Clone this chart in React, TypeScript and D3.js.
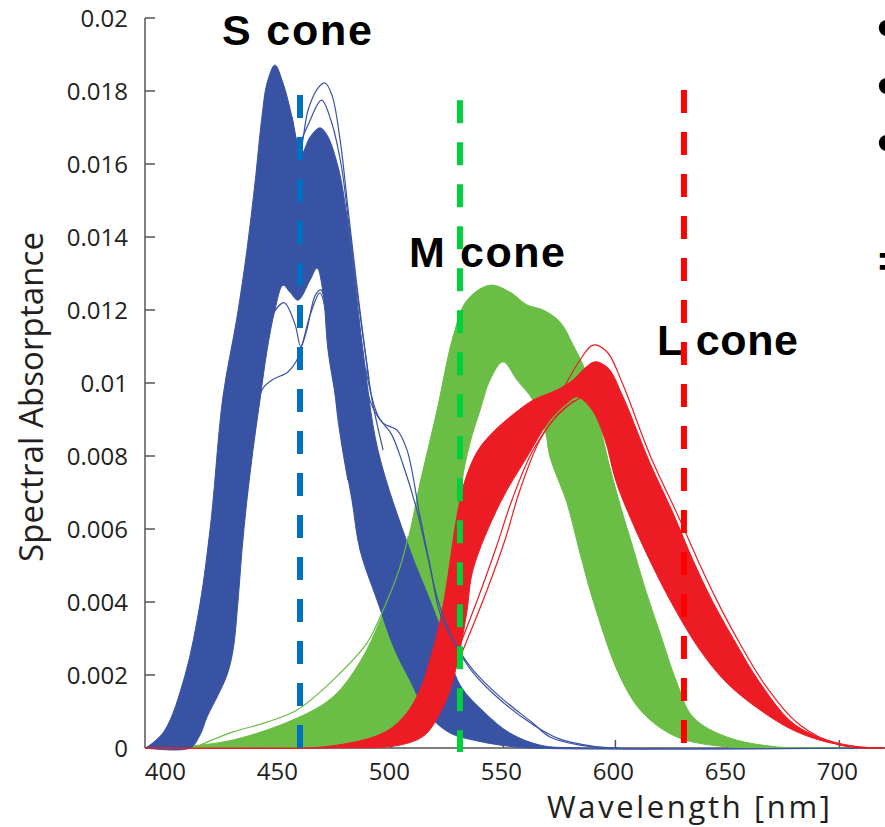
import React from "react";
import * as d3 from "d3";

type Pt = [number, number];

// [wavelength nm, spectral absorptance]
// S cone band: upper and lower edge of the bundle of curves
const sConeUpper: Pt[] = [
  [390, 0], [392.2, 0.00008], [398.9, 0.00049], [407.9, 0.002], [414.6, 0.00397],
  [419.0, 0.00597], [420.4, 0.00679], [424.8, 0.00962], [431.1, 0.01181], [435.5, 0.01364],
  [439.1, 0.01548], [442.2, 0.01729], [444.5, 0.01822], [448.0, 0.01871], [451.6, 0.01822],
  [455.6, 0.01729], [458.3, 0.01647], [459.8, 0.01625], [463.7, 0.01674], [468.1, 0.01699],
  [471.3, 0.01679], [476.2, 0.01592], [480.2, 0.01455], [483.8, 0.01274], [487.3, 0.0109],
  [494.0, 0.00816], [508.3, 0.00542], [517.2, 0.00405], [523.9, 0.00296], [530.6, 0.00173],
  [541.8, 0.00096], [552.9, 0.00041], [566.3, 0.00008], [584.2, 0], [720, 0],
];
const sConeLower: Pt[] = [
  [390, 0], [410.1, 0], [414.6, 0.00036], [417.7, 0.00085], [422.6, 0.00145],
  [426.6, 0.002], [429.3, 0.00268], [431.5, 0.004], [433.3, 0.00542], [435.5, 0.00679],
  [438.2, 0.00816], [441.3, 0.00953], [444.5, 0.0109], [448.0, 0.012], [451.6, 0.01268],
  [454.7, 0.01249], [458.3, 0.01227], [463.7, 0.01282], [466.8, 0.01315], [469.5, 0.01247],
  [471.7, 0.0109], [475.3, 0.00953], [478.4, 0.00816], [482.4, 0.00679], [486.0, 0.00542],
  [493.6, 0.00405], [501.6, 0.00268], [508.3, 0.00186], [515.9, 0.00096], [526.2, 0.00041],
  [536.4, 0.00022], [548.5, 0.00008], [561.9, 0], [720, 0],
];
// single S curves that stand apart from the bundle
const sLineTall: Pt[] = [
  [455.6, 0.01729], [459.2, 0.01638], [462.8, 0.01748], [467.2, 0.01808], [470.4, 0.01822],
  [473.5, 0.01788], [477.1, 0.01666], [480.7, 0.01474], [484.3, 0.01282], [488.2, 0.0109],
  [491.4, 0.00953], [496.3, 0.00816],
];
const sLineTall2: Pt[] = [
  [458.3, 0.0164], [463.0, 0.0171], [468.8, 0.01775], [473.0, 0.0172], [477.5, 0.016],
  [481.5, 0.0141], [485.5, 0.0121], [490.0, 0.0101],
];
const sLineShoulder: Pt[] = [
  [485.5, 0.0116], [490.4, 0.00953], [496.3, 0.0089], [502.5, 0.00871], [507.0, 0.00816],
  [512.8, 0.00633], [517.2, 0.00501], [521.7, 0.0037], [529.3, 0.00277], [536.4, 0.00214],
  [548.5, 0.0014], [563.2, 0.00068], [570.8, 0.0003], [584.2, 0.00008], [602.1, 0],
];
const sLineShoulder2: Pt[] = [
  [488.5, 0.0104], [494, 0.0091], [500, 0.0086], [505, 0.0078], [511, 0.0066], [516, 0.0053],
  [521, 0.004], [528, 0.0029], [536, 0.0021], [548, 0.00135], [563, 0.00065], [575, 0.00025],
  [595, 0],
];
const sLineLow: Pt[] = [
  [432.4, 0.00542], [439.1, 0.00871], [442.2, 0.00981], [446.7, 0.01008], [453.8, 0.0103],
  [457.4, 0.01058], [460.1, 0.01104], [463.7, 0.01186], [468.1, 0.01247], [471.3, 0.01173],
  [473.5, 0.01063], [476.2, 0.00899], [480.6, 0.00734],
];
const sLineDip: Pt[] = [
  [446, 0.0118], [452, 0.0122], [457, 0.0116], [459.5, 0.011], [462, 0.0114], [466, 0.0124],
  [468.5, 0.01255], [471, 0.012], [474, 0.0108],
];

// M cone band
const mConeUpper: Pt[] = [
  [390, 0], [405.6, 0.00003], [429.3, 0.00022], [457.9, 0.00082], [473.9, 0.0014],
  [486.0, 0.00236], [496.3, 0.0037], [507.0, 0.00562], [512.8, 0.00726], [520.4, 0.00926],
  [527.5, 0.01126], [533.8, 0.01227], [544.0, 0.01268], [552.9, 0.01249], [560.5, 0.01214],
  [567.7, 0.012], [575.3, 0.01167], [581.1, 0.01104], [586.4, 0.01036], [591.8, 0.00918],
  [596.7, 0.00789], [602.1, 0.00666], [607.9, 0.00548], [613.2, 0.00438], [619.9, 0.00315],
  [627.5, 0.00178], [634.6, 0.00085], [649.8, 0.0003], [672.1, 0.00003], [694.5, 0], [720, 0],
];
const mConeLower: Pt[] = [
  [390, 0], [459.2, 0], [486.0, 0.00008], [503.8, 0.00036], [517.2, 0.00104],
  [523.9, 0.00214], [528.4, 0.00405], [530.6, 0.0057], [531.5, 0.00726], [535.1, 0.00836],
  [539.6, 0.00926], [544.0, 0.01008], [549.8, 0.01058], [556.1, 0.01008], [563.2, 0.00953],
  [568.6, 0.00871], [570.8, 0.00797], [578.4, 0.00671], [584.2, 0.00534], [590.0, 0.00405],
  [602.1, 0.00195], [612.3, 0.00096], [627.5, 0.0003], [649.8, 0.00003], [672.1, 0], [720, 0],
];
const mLineOuter: Pt[] = [
  [414.6, 0.00008], [429.3, 0.00044], [444.5, 0.00071], [457.9, 0.00104], [473.9, 0.00186],
  [489.1, 0.00288], [496.3, 0.00378], [503.8, 0.00495], [507.5, 0.0058],
];

// L cone band
const lConeUpper: Pt[] = [
  [390, 0], [436.9, 0], [472.6, 0.00005], [496.3, 0.00041], [506.1, 0.0009],
  [512.8, 0.00159], [517.2, 0.00241], [520.8, 0.00323], [523.9, 0.00419], [526.6, 0.00529],
  [529.3, 0.00638], [532.9, 0.00734], [538.7, 0.00816], [546.3, 0.00871], [555.2, 0.00918],
  [563.2, 0.00953], [573.9, 0.00981], [581.1, 0.01008], [586.4, 0.01041], [590.9, 0.01058],
  [596.7, 0.01041], [603.4, 0.00962], [615.4, 0.00781], [625.7, 0.00644], [634.6, 0.00515],
  [643.1, 0.00405], [652.5, 0.00301], [664.6, 0.00178], [679.3, 0.00068], [694.5, 0.00022],
  [709.2, 0.00003], [720, 0],
];
const lConeLower: Pt[] = [
  [390, 0], [472.6, 0], [503.8, 0.00008], [515.0, 0.00036], [521.7, 0.00096],
  [526.2, 0.00159], [530.6, 0.00268], [533.8, 0.00378], [536.4, 0.00488], [548.5, 0.00671],
  [560.5, 0.00797], [570.8, 0.00899], [578.4, 0.00945], [582.9, 0.00962], [589.6, 0.00926],
  [595.4, 0.00844], [599.8, 0.0074], [603.4, 0.00679], [613.2, 0.00542], [624.4, 0.00405],
  [637.8, 0.00268], [649.8, 0.00178], [664.6, 0.00104], [679.3, 0.00049], [694.5, 0.00016],
  [709.2, 0.00003], [720, 0],
];
const lLineA: Pt[] = [
  [518.6, 0.00096], [526.2, 0.00186], [533.8, 0.00296], [542.7, 0.00433], [550.7, 0.0057],
  [557.4, 0.00707], [566.3, 0.00844], [575.3, 0.00921], [584.2, 0.00959],
];
const lLineB: Pt[] = [
  [516.3, 0.00077], [523.9, 0.00173], [530.6, 0.00282], [538.7, 0.00411], [546.7, 0.00548],
  [553.8, 0.00679], [562.8, 0.00811], [573.0, 0.00904], [581.9, 0.00953],
];
const lLinePeak: Pt[] = [
  [575.3, 0.00967], [584.2, 0.01063], [590.0, 0.01104], [596.3, 0.01085], [603.4, 0.00995],
  [615.4, 0.00803], [628.8, 0.00625], [637.8, 0.00501], [644.5, 0.00414], [653.4, 0.0031],
  [666.8, 0.00173], [682.4, 0.00063], [700.3, 0.00008], [720, 0],
];

// dashed peak markers
const markerWavelengths = [459.2, 530.6, 630.6];
const markerTops = [0.01789, 0.01775, 0.01803];
const markerBottoms = [0, -0.00011, 0.00014];
const markerColors = ["#0070c0", "#00d03a", "#ff0000"];

const coneNames = ["S cone", "M cone", "L cone"];

const xTicks = [400, 450, 500, 550, 600, 650, 700];
const yTicks = [0, 0.002, 0.004, 0.006, 0.008, 0.01, 0.012, 0.014, 0.016, 0.018, 0.02];
const yTickLabels = ["0", "0.002", "0.004", "0.006", "0.008", "0.01", "0.012", "0.014", "0.016", "0.018", "0.02"];

const W = 885;
const H = 827;

const x = d3.scaleLinear().domain([390, 720]).range([145, 884.2]);
const y = d3.scaleLinear().domain([0, 0.02]).range([748, 18]);

const line = d3
  .line<Pt>()
  .x((d) => x(d[0]))
  .y((d) => y(d[1]))
  .curve(d3.curveCatmullRom.alpha(0.5));

const band = (upper: Pt[], lower: Pt[]) => {
  const top = line(upper) as string;
  const bottom = line([...lower].reverse()) as string;
  return top + "L" + bottom.slice(1) + "Z";
};

const bands = [
  { upper: mConeUpper, lower: mConeLower, color: "#6abd45" },
  { upper: sConeUpper, lower: sConeLower, color: "#3953a4" },
  { upper: lConeUpper, lower: lConeLower, color: "#ed1c24" },
];

const strays = [
  { pts: mLineOuter, color: "#6abd45" },
  { pts: lLineA, color: "#ed1c24" },
  { pts: lLineB, color: "#ed1c24" },
  { pts: lLinePeak, color: "#ed1c24" },
  { pts: sLineTall, color: "#3953a4" },
  { pts: sLineTall2, color: "#3953a4" },
  { pts: sLineShoulder, color: "#3953a4" },
  { pts: sLineShoulder2, color: "#3953a4" },
  { pts: sLineLow, color: "#3953a4" },
  { pts: sLineDip, color: "#3953a4" },
];

const titlePos = [
  { x: 222, y: 45, len: 150 },
  { x: 409, y: 267, len: 156 },
  { x: 657, y: 355, len: 141 },
];

const axisFont = "'Open Sans', 'DejaVu Sans', sans-serif";
const titleFont = "'Liberation Sans', Arial, sans-serif";

export default function App() {
  return (
    <svg
      width={W}
      height={H}
      viewBox={`0 0 ${W} ${H}`}
      style={{ position: "absolute", left: 0, top: 0, background: "#fff" }}
    >
      {/* axes */}
      <g stroke="#555" strokeWidth={1.5} fill="none">
        <line x1={145} x2={145} y1={y(0.02)} y2={y(0)} />
        <line x1={145} x2={W} y1={y(0)} y2={y(0)} />
        {yTicks.map((t) => (
          <line key={t} x1={145} x2={155} y1={y(t)} y2={y(t)} />
        ))}
        {xTicks.map((t) => (
          <line key={t} x1={x(t)} x2={x(t)} y1={y(0)} y2={y(0) - 8} />
        ))}
      </g>
      <g fontFamily={axisFont} fontSize={24} fill="#231f20">
        {yTicks.map((t, i) => (
          <text key={t} x={128} y={y(t) + 8.5} textAnchor="end">
            {yTickLabels[i]}
          </text>
        ))}
        {xTicks.map((t) => (
          <text key={t} x={x(t) - 2} y={780} textAnchor="middle">
            {t}
          </text>
        ))}
      </g>
      <text
        x={547}
        y={818}
        fontFamily={axisFont}
        fontSize={31}
        fill="#231f20"
        textLength={283}
        lengthAdjust="spacing"
      >
        Wavelength [nm]
      </text>
      <text
        transform="translate(43,397) rotate(-90)"
        textAnchor="middle"
        fontFamily={axisFont}
        fontSize={33}
        fill="#231f20"
        textLength={330}
        lengthAdjust="spacing"
      >
        Spectral Absorptance
      </text>

      {/* bundles of absorptance curves */}
      {bands.map((b, i) => (
        <path
          key={i}
          d={band(b.upper, b.lower)}
          fill={b.color}
          stroke={b.color}
          strokeWidth={1}
          strokeLinejoin="round"
        />
      ))}
      {strays.map((s, i) => (
        <path key={i} d={line(s.pts) as string} fill="none" stroke={s.color} strokeWidth={1.2} />
      ))}

      {/* cone names */}
      {coneNames.map((n, i) => (
        <text
          key={n}
          x={titlePos[i].x}
          y={titlePos[i].y}
          fontFamily={titleFont}
          fontWeight="bold"
          fontSize={43}
          fill="#000"
          textLength={titlePos[i].len}
          lengthAdjust="spacing"
        >
          {n}
        </text>
      ))}

      {/* dashed peak lines */}
      {markerWavelengths.map((w, i) => (
        <line
          key={w}
          x1={x(w)}
          x2={x(w)}
          y1={y(markerTops[i])}
          y2={y(markerBottoms[i])}
          stroke={markerColors[i]}
          strokeWidth={6}
          strokeDasharray="23 19"
        />
      ))}

      {/* slide text cut off at the right edge, as in the source */}
      <g fontFamily={titleFont} fontWeight="bold" fill="#000">
        <text x={877} y={46} fontSize={56}>•</text>
        <text x={877} y={104} fontSize={56}>•</text>
        <text x={877} y={161} fontSize={56}>•</text>
        <text x={878} y={277} fontSize={44}>=</text>
      </g>
    </svg>
  );
}
